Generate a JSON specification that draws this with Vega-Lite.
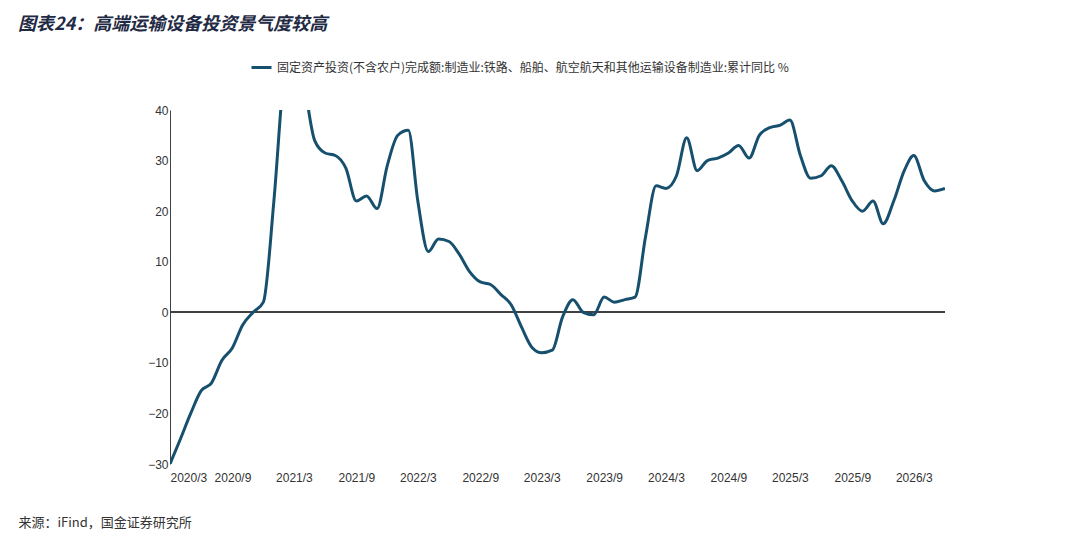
{
  "$schema": "https://vega.github.io/schema/vega-lite/v6.json",
  "autosize": "none",
  "width": 775,
  "height": 354,
  "padding": {"left": 170, "top": 110, "right": 135, "bottom": 71},
  "background": "white",
  "config": {"view": {"stroke": null}, "font": "Noto Sans CJK SC"},
  "title": {
    "text": "图表24：高端运输设备投资景气度较高",
    "anchor": "start",
    "frame": "group",
    "dx": -152,
    "offset": 22,
    "fontSize": 18,
    "fontStyle": "italic",
    "fontWeight": "bold",
    "color": "#1f2a44"
  },
  "data": {
    "values": [
      {"d": "2020-03-01", "v": -30}, {"d": "2020-04-01", "v": -25}, {"d": "2020-05-01", "v": -20},
      {"d": "2020-06-01", "v": -15.5}, {"d": "2020-07-01", "v": -14}, {"d": "2020-08-01", "v": -9.5},
      {"d": "2020-09-01", "v": -7}, {"d": "2020-10-01", "v": -2.5}, {"d": "2020-11-01", "v": 0},
      {"d": "2020-12-01", "v": 2}, {"d": "2021-01-01", "v": 22}, {"d": "2021-02-01", "v": 48},
      {"d": "2021-03-01", "v": 56}, {"d": "2021-04-01", "v": 45}, {"d": "2021-05-01", "v": 34},
      {"d": "2021-06-01", "v": 31.5}, {"d": "2021-07-01", "v": 31}, {"d": "2021-08-01", "v": 28.5},
      {"d": "2021-09-01", "v": 22}, {"d": "2021-10-01", "v": 23}, {"d": "2021-11-01", "v": 20.5},
      {"d": "2021-12-01", "v": 29}, {"d": "2022-01-01", "v": 35}, {"d": "2022-02-01", "v": 36},
      {"d": "2022-03-01", "v": 22}, {"d": "2022-04-01", "v": 12}, {"d": "2022-05-01", "v": 14.5},
      {"d": "2022-06-01", "v": 14}, {"d": "2022-07-01", "v": 11.5}, {"d": "2022-08-01", "v": 8},
      {"d": "2022-09-01", "v": 6}, {"d": "2022-10-01", "v": 5.5}, {"d": "2022-11-01", "v": 3.5},
      {"d": "2022-12-01", "v": 1.5}, {"d": "2023-01-01", "v": -3}, {"d": "2023-02-01", "v": -7},
      {"d": "2023-03-01", "v": -8}, {"d": "2023-04-01", "v": -7.5}, {"d": "2023-05-01", "v": -1},
      {"d": "2023-06-01", "v": 2.5}, {"d": "2023-07-01", "v": 0}, {"d": "2023-08-01", "v": -0.5},
      {"d": "2023-09-01", "v": 3}, {"d": "2023-10-01", "v": 2}, {"d": "2023-11-01", "v": 2.5},
      {"d": "2023-12-01", "v": 3}, {"d": "2024-01-01", "v": 15}, {"d": "2024-02-01", "v": 25},
      {"d": "2024-03-01", "v": 24.5}, {"d": "2024-04-01", "v": 27}, {"d": "2024-05-01", "v": 34.5},
      {"d": "2024-06-01", "v": 28}, {"d": "2024-07-01", "v": 30}, {"d": "2024-08-01", "v": 30.5},
      {"d": "2024-09-01", "v": 31.5}, {"d": "2024-10-01", "v": 33}, {"d": "2024-11-01", "v": 30.5},
      {"d": "2024-12-01", "v": 35}, {"d": "2025-01-01", "v": 36.5}, {"d": "2025-02-01", "v": 37},
      {"d": "2025-03-01", "v": 38}, {"d": "2025-04-01", "v": 31}, {"d": "2025-05-01", "v": 26.5},
      {"d": "2025-06-01", "v": 27}, {"d": "2025-07-01", "v": 29}, {"d": "2025-08-01", "v": 26},
      {"d": "2025-09-01", "v": 22}, {"d": "2025-10-01", "v": 20}, {"d": "2025-11-01", "v": 22},
      {"d": "2025-12-01", "v": 17.5}, {"d": "2026-01-01", "v": 22}, {"d": "2026-02-01", "v": 28},
      {"d": "2026-03-01", "v": 31}, {"d": "2026-04-01", "v": 26}, {"d": "2026-05-01", "v": 24},
      {"d": "2026-06-01", "v": 24.5}
    ]
  },
  "transform": [{"calculate": "'固定资产投资(不含农户)完成额:制造业:铁路、船舶、航空航天和其他运输设备制造业:累计同比 %'", "as": "s"}],
  "layer": [
    {
      "mark": {"type": "rule", "color": "#404040", "strokeWidth": 1},
      "encoding": {"y": {"datum": 0, "type": "quantitative"}}
    },
    {
      "mark": {"type": "line", "interpolate": "monotone", "strokeWidth": 3, "clip": true},
      "encoding": {
        "x": {
          "field": "d", "type": "temporal",
          "scale": {"domain": ["2020-03-01", "2026-06-01"]},
          "axis": {
            "values": ["2020-03-01", "2020-09-01", "2021-03-01", "2021-09-01", "2022-03-01", "2022-09-01", "2023-03-01", "2023-09-01", "2024-03-01", "2024-09-01", "2025-03-01", "2025-09-01", "2026-03-01"],
            "format": "%Y/%-m", "domain": false, "ticks": false, "grid": false,
            "labelFontSize": 12, "labelColor": "#333", "labelPadding": 8, "labelFont": "Liberation Sans",
            "title": "来源：iFind，国金证券研究所", "titleX": -152, "titleY": 52, "titleAlign": "left",
            "titleFontWeight": "normal", "titleFontSize": 13, "titleColor": "#333"
          }
        },
        "y": {
          "field": "v", "type": "quantitative",
          "scale": {"domain": [-30, 40]},
          "axis": {
            "values": [-30, -20, -10, 0, 10, 20, 30, 40], "grid": false, "ticks": false,
            "domainColor": "#404040", "labelFontSize": 12, "labelColor": "#333", "labelFont": "Liberation Sans", "title": null
          }
        },
        "color": {
          "field": "s", "type": "nominal",
          "scale": {"range": ["#17506e"]},
          "legend": {
            "title": null, "orient": "none", "legendX": 80, "legendY": -54,
            "symbolType": "stroke", "symbolStrokeWidth": 3, "symbolSize": 400,
            "labelFontSize": 12, "labelLimit": 700, "labelColor": "#333"
          }
        }
      }
    }
  ]
}
